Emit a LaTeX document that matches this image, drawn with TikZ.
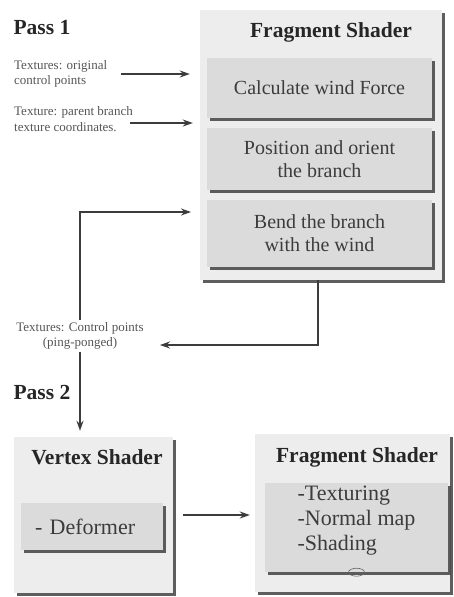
\documentclass[tikz,border=0pt]{standalone}
\usepackage{fontspec}
\setmainfont{Liberation Serif}
\usetikzlibrary{arrows.meta,shadows}

\definecolor{panelgray}{HTML}{EDEDED}
\definecolor{boxgray}{HTML}{DBDBDB}
\definecolor{inkgray}{HTML}{3C3C3C}
\definecolor{labelgray}{HTML}{555555}

\begin{document}
\begin{tikzpicture}[x=1pt,y=-1pt, % coordinates in pixels, y going down
  panel/.style={fill=panelgray,drop shadow={shadow xshift=3pt,shadow yshift=-3pt,fill=black!70,opacity=0.9}},
  stepbox/.style={fill=boxgray,drop shadow={shadow xshift=3pt,shadow yshift=-3pt,fill=black!70,opacity=0.9},
    font=\fontsize{20}{23}\selectfont,text=inkgray,align=center},
  title/.style={font=\bfseries\fontsize{21.5}{24}\selectfont,text=black!85},
  note/.style={font=\fontsize{13}{15.5}\selectfont,text=labelgray,align=left,inner sep=2pt},
  flow/.style={draw=inkgray,line width=1.6pt,-{Stealth[length=10pt,width=7pt]}}]

% Fix the picture size
\useasboundingbox (0,0) rectangle (454,597);

% Pass 1
\node[title,anchor=west] (pass1) at (10,28) {Pass 1};

% Fragment shader of the first pass
\node[panel,minimum width=242pt,minimum height=270pt] (frag) at (321,145) {};
\node[title] (fragtitle) at (331,32) {Fragment Shader};
\node[stepbox,minimum width=225pt,minimum height=60pt] (calc) at (319.5,88) {Calculate wind Force};
\node[stepbox,minimum width=225pt,minimum height=62pt] (orient) at (319.5,159) {Position and orient\\the branch};
\node[stepbox,minimum width=225pt,minimum height=67pt] (bend) at (319.5,233.5) {Bend the branch\\with the wind};

% Input textures
\node[note,anchor=west] (origpts) at (12,74) {Textures: original\\control points};
\node[note,anchor=west] (parent) at (12,119) {Texture: parent branch\\texture coordinates.};
\node[note,align=center] (ping) at (80,336) {Textures: Control points\\(ping-ponged)};

\draw[flow] ([xshift=12pt]origpts.east) -- ([xshift=-10pt]origpts.east -| frag.west);
\draw[flow] ([xshift=-5pt,yshift=-4pt]parent.east) -- ([xshift=-7pt,yshift=-4pt]parent.east -| frag.west);

% Ping-pong loop
\coordinate (bendin) at (191,212);
\coordinate (pingin) at (160,345);
\draw[flow] (ping.north) |- (bendin);
\draw[flow] ([xshift=-3pt]frag.south) |- (pingin);

% Pass 2
\node[title,anchor=west] (pass2) at (10,392) {Pass 2};

% Vertex shader
\node[panel,minimum width=159pt,minimum height=156pt] (vert) at (93.5,515) {};
\node[title] (verttitle) at (97,457) {Vertex Shader};
\node[stepbox,font=\fontsize{22}{25}\selectfont,minimum width=142pt,minimum height=47pt,
  text width=114pt,inner xsep=14pt,align=left] (deform) at (92,526.5) {- Deformer};

\draw[flow] (ping.south) -- ([yshift=6pt]ping.south |- vert.north);

% Fragment shader of the second pass
\node[panel,minimum width=195pt,minimum height=158pt] (frag2) at (352.5,513) {};
\node[title] (frag2title) at (357,457) {Fragment Shader};
\node[stepbox,minimum width=183pt,minimum height=89pt] (shading) at (356.5,527.5) {};
\node[font=\fontsize{22}{25}\selectfont,text=inkgray,align=left] (shadelist) at ([yshift=7pt]shading.center)
  {-Texturing\\-Normal map\\-Shading};
\draw[inkgray!80,line width=0.6pt] (shading.south) ellipse [x radius=8pt,y radius=4pt];

\draw[flow] ([xshift=10pt]vert.east) -- ([xshift=-5pt]frag2.west |- vert.east);

\end{tikzpicture}
\end{document}
